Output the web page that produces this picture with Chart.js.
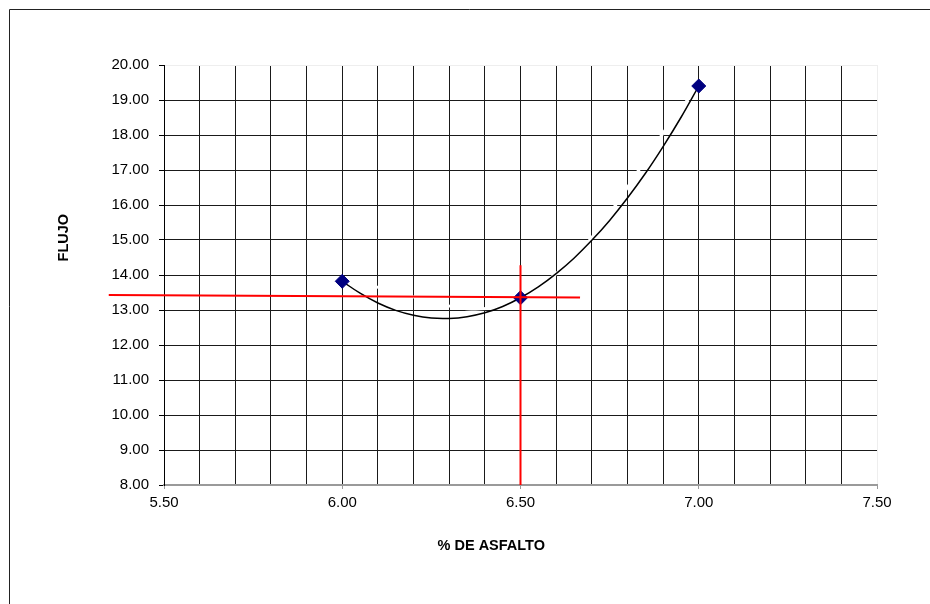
<!DOCTYPE html>
<html>
<head>
<meta charset="utf-8">
<script src="https://cdn.jsdelivr.net/npm/chart.js@4/dist/chart.umd.min.js"></script>
<style>
  html, body { margin: 0; padding: 0; background: #ffffff; }
  #wrap { width: 930px; height: 604px; }
</style>
</head>
<body>
<div id="wrap"><canvas id="chart" width="930" height="604"></canvas></div>
<script>
// Ensayo Marshall: flujo vs. porcentaje de asfalto
const asfalto = [6.00, 6.50, 7.00];
const flujo = [13.82, 13.35, 19.40];

// Curva de ajuste (polinómica) leída punto a punto
const curvaX = [6.00, 6.05, 6.10, 6.15, 6.20, 6.25, 6.30, 6.35, 6.40, 6.45, 6.50,
                6.55, 6.60, 6.65, 6.70, 6.75, 6.80, 6.85, 6.90, 6.95, 7.00];
const curvaY = [13.82, 13.48, 13.20, 12.99, 12.85, 12.77, 12.76, 12.81, 12.92, 13.10, 13.35,
                13.66, 14.04, 14.48, 14.99, 15.56, 16.20, 16.90, 17.67, 18.50, 19.40];

// Líneas de lectura del óptimo
const lecturaHX = [5.345, 6.667];
const lecturaHY = [13.43, 13.36];
const lecturaVX = [6.50, 6.50];
const lecturaVY = [14.28, 8.00];

// Ejes
const xMin = 5.50, xMax = 7.50, xPaso = 0.10;
const yMin = 8.00, yMax = 20.00, yPaso = 1.00;

const toPts = (xs, ys) => xs.map((x, i) => ({ x: x, y: ys[i] }));
const FONT = "'Liberation Sans', Arial, sans-serif";

const marco = {
  id: 'marco',
  beforeDraw(chart) {
    const ctx = chart.ctx;
    ctx.save();
    ctx.fillStyle = '#ffffff';
    ctx.fillRect(0, 0, chart.width, chart.height);
    ctx.restore();
  },
  afterDraw(chart) {
    const ctx = chart.ctx;
    const a = chart.chartArea;
    ctx.save();
    // borde exterior del gráfico
    ctx.strokeStyle = '#222222';
    ctx.lineWidth = 1;
    ctx.beginPath();
    ctx.moveTo(9.5, chart.height);
    ctx.lineTo(9.5, 9.5);
    ctx.lineTo(chart.width, 9.5);
    ctx.stroke();
    // títulos de ejes
    ctx.fillStyle = '#000000';
    ctx.font = 'bold 14.5px ' + FONT;
    ctx.textAlign = 'center';
    ctx.textBaseline = 'middle';
    ctx.fillText('% DE ASFALTO', a.left + (a.right - a.left) * 0.459, 546);
    ctx.translate(64, a.top + (a.bottom - a.top) * 0.411);
    ctx.rotate(-Math.PI / 2);
    ctx.fillText('FLUJO', 0, 0);
    ctx.restore();
  }
};

const esMedio = v => Math.abs(v * 2 - Math.round(v * 2)) < 1e-6;
const casi = (a, b) => Math.abs(a - b) < 1e-6;

new Chart(document.getElementById('chart'), {
  type: 'scatter',
  data: {
    datasets: [
      {
        data: toPts(lecturaVX, lecturaVY),
        showLine: true, borderColor: '#ff0000', borderWidth: 2,
        pointRadius: 0, clip: false
      },
      {
        data: toPts(lecturaHX, lecturaHY),
        showLine: true, borderColor: '#ff0000', borderWidth: 2,
        pointRadius: 0, clip: false
      },
      {
        data: toPts(asfalto, flujo),
        showLine: false, pointStyle: 'rectRot', pointRadius: 7,
        backgroundColor: '#000080', borderColor: '#000080', borderWidth: 1
      },
      {
        data: toPts(curvaX, curvaY),
        showLine: true, borderColor: '#000000', borderWidth: 1.5,
        tension: 0.4, pointRadius: 0
      },
      {
        // serie suavizada en blanco por debajo de la curva
        data: toPts(asfalto, flujo),
        showLine: true, borderColor: '#ffffff', borderWidth: 3,
        tension: 0.4, pointRadius: 0
      }
    ]
  },
  options: {
    responsive: false,
    animation: false,
    events: [],
    layout: { padding: { top: 65, right: 53, left: 0, bottom: 0 } },
    plugins: { legend: { display: false }, tooltip: { enabled: false } },
    scales: {
      x: {
        type: 'linear', min: xMin, max: xMax,
        afterFit(s) { s.height = 119; },
        border: { display: true, color: '#9a9a9a', width: 2 },
        grid: {
          color: c => casi(c.tick.value, xMin) ? '#000000' : (casi(c.tick.value, xMax) ? '#eeeeee' : '#1a1a1a'),
          lineWidth: 1,
          tickLength: 4,
          tickColor: c => esMedio(c.tick.value) ? '#9a9a9a' : 'rgba(0,0,0,0)'
        },
        ticks: {
          stepSize: xPaso, autoSkip: false, maxRotation: 0, padding: 5,
          color: '#000000', font: { family: FONT, size: 15 },
          callback: v => esMedio(v) ? v.toFixed(2) : ''
        }
      },
      y: {
        type: 'linear', min: yMin, max: yMax,
        afterFit(s) { s.width = 164; },
        border: { display: true, color: '#000000', width: 1 },
        grid: {
          color: c => casi(c.tick.value, yMin) ? '#9a9a9a' : (casi(c.tick.value, yMax) ? '#eeeeee' : '#1a1a1a'),
          lineWidth: 1,
          tickLength: 5,
          tickColor: '#000000'
        },
        ticks: {
          stepSize: yPaso, padding: 10,
          color: '#000000', font: { family: FONT, size: 15 },
          callback: v => v.toFixed(2)
        }
      }
    }
  },
  plugins: [marco]
});
</script>
</body>
</html>
